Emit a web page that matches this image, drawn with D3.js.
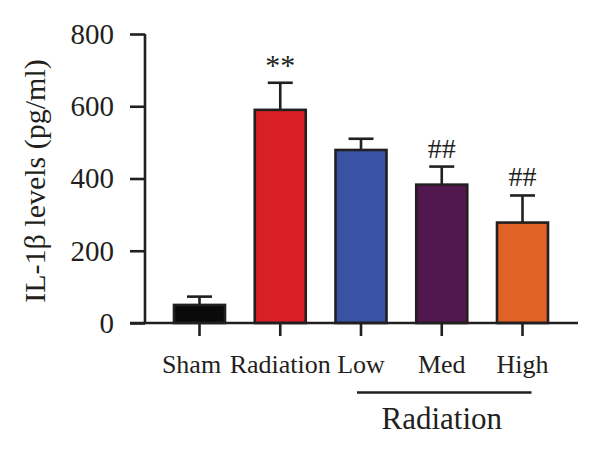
<!DOCTYPE html>
<html>
<head>
<meta charset="utf-8">
<script src="https://d3js.org/d3.v7.min.js"></script>
<style>
  body { margin: 0; background: #fff; }
  text { font-family: "Liberation Serif", "DejaVu Serif", serif; fill: #231f20; }
</style>
</head>
<body>
<script>
// data
var groups = ["Sham", "Radiation", "Low", "Med", "High"];
var means = [50, 590, 479, 383, 278];
var errors = [23, 75, 31, 50, 75];
var colors = ["#0a0a0a", "#d91f26", "#3a52a4", "#52174f", "#e06225"];
var marks = ["", "**", "", "##", "##"];
var yTicks = [0, 200, 400, 600, 800];

var width = 600, height = 451;

var svg = d3.select("body").append("svg")
    .attr("width", width)
    .attr("height", height);

var x = d3.scalePoint()
    .domain(groups)
    .range([199.5, 522.5]);

var y = d3.scaleLinear()
    .domain([0, 800])
    .range([323, 34]);

var barW = 51;
var capW = 25;
var axisX = 145;

// y axis
var yAxis = svg.append("g")
    .attr("transform", "translate(" + axisX + ",0)")
    .call(d3.axisLeft(y).tickValues(yTicks).tickSize(15).tickPadding(16));
yAxis.select(".domain").attr("stroke", "#231f20").attr("stroke-width", 2.6)
    .attr("d", "M0," + y(800) + "V" + y(0));
yAxis.selectAll(".tick line").attr("stroke", "#231f20").attr("stroke-width", 2.6);
yAxis.selectAll(".tick text")
    .style("font-size", "29px")
    .style("font-family", "'Liberation Serif', serif")
    .attr("fill", "#231f20");

// error bars (behind bars)
var err = svg.append("g");
groups.forEach(function(g, i) {
    var cx = x(g);
    err.append("line")
        .attr("x1", cx).attr("x2", cx)
        .attr("y1", y(means[i])).attr("y2", y(means[i] + errors[i]))
        .attr("stroke", "#231f20").attr("stroke-width", 2.6);
    err.append("line")
        .attr("x1", cx - capW / 2).attr("x2", cx + capW / 2)
        .attr("y1", y(means[i] + errors[i])).attr("y2", y(means[i] + errors[i]))
        .attr("stroke", "#231f20").attr("stroke-width", 2.6);
});

// bars
svg.append("g").selectAll("rect")
    .data(groups)
    .enter()
    .append("rect")
    .attr("x", d => x(d) - barW / 2)
    .attr("y", (d, i) => y(means[i]))
    .attr("width", barW)
    .attr("height", (d, i) => y(0) - y(means[i]))
    .attr("fill", (d, i) => colors[i])
    .attr("stroke", "#231f20")
    .attr("stroke-width", 2.6);

// x axis
svg.append("line")
    .attr("x1", 130).attr("x2", 578)
    .attr("y1", y(0)).attr("y2", y(0))
    .attr("stroke", "#231f20").attr("stroke-width", 2.6);
svg.append("g").selectAll("line")
    .data(groups)
    .enter()
    .append("line")
    .attr("x1", d => x(d)).attr("x2", d => x(d))
    .attr("y1", y(0)).attr("y2", y(0) + 13)
    .attr("stroke", "#231f20").attr("stroke-width", 2.6);

svg.append("g").selectAll("text")
    .data(groups)
    .enter()
    .append("text")
    .attr("x", (d, i) => x(d) - (i === 0 ? 8 : 0))
    .attr("y", 373)
    .attr("text-anchor", "middle")
    .style("font-size", "26px")
    .text(d => d);

// significance marks
svg.append("g").selectAll("text")
    .data(groups)
    .enter()
    .append("text")
    .attr("x", d => x(d))
    .attr("y", (d, i) => y(means[i] + errors[i]) - (marks[i] === "**" ? 8 : 9))
    .attr("text-anchor", "middle")
    .style("font-size", (d, i) => marks[i] === "**" ? "30px" : "28px")
    .text((d, i) => marks[i]);

// group bracket
svg.append("line")
    .attr("x1", x("Low") - 4).attr("x2", x("High") + 9)
    .attr("y1", 392.5).attr("y2", 392.5)
    .attr("stroke", "#231f20").attr("stroke-width", 2.6);
svg.append("text")
    .attr("x", x("Med"))
    .attr("y", 429)
    .attr("text-anchor", "middle")
    .style("font-size", "31px")
    .text("Radiation");

// y label
svg.append("text")
    .attr("transform", "translate(45," + 181 + ") rotate(-90)")
    .attr("text-anchor", "middle")
    .style("font-size", "30px")
    .text("IL-1β levels (pg/ml)");
</script>
</body>
</html>
